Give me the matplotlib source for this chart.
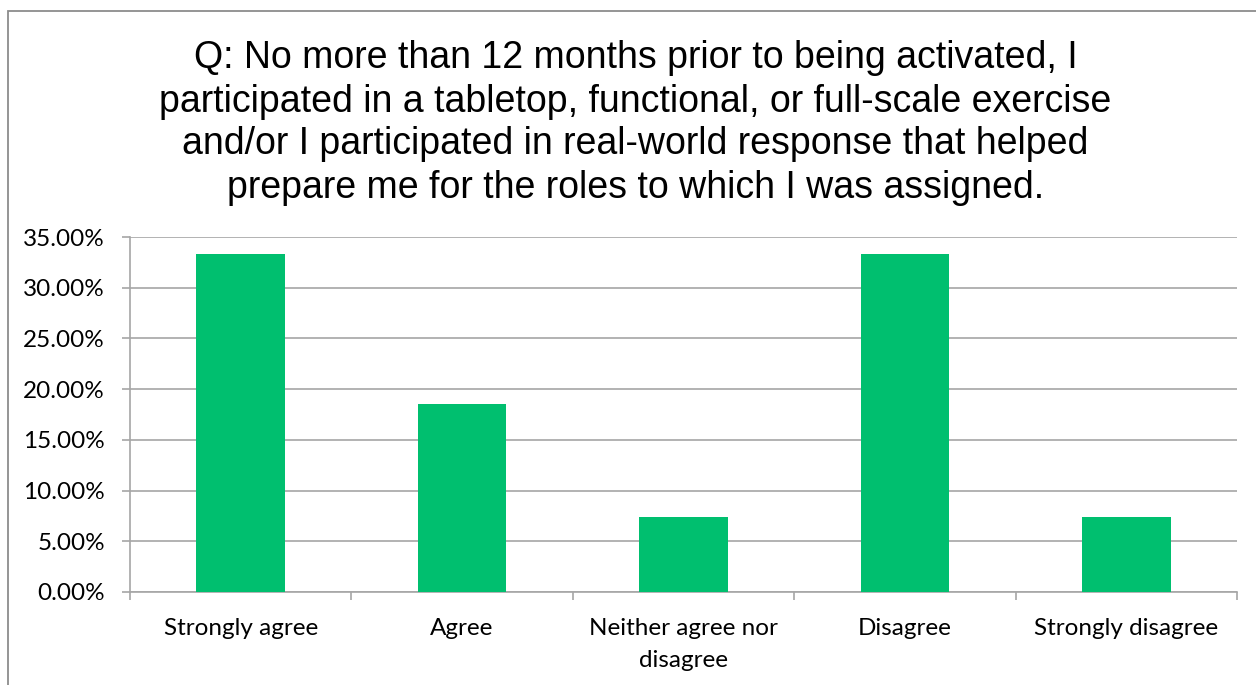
import matplotlib.pyplot as plt
from matplotlib.patches import Rectangle
from matplotlib.ticker import FixedLocator, NullFormatter, PercentFormatter

# survey answers (share of respondents, %)
CATEGORIES = ["Strongly agree", "Agree", "Neither agree nor\ndisagree",
              "Disagree", "Strongly disagree"]
SHARES = [33.33, 18.52, 7.41, 33.33, 7.41]
Y_TICKS = [0, 5, 10, 15, 20, 25, 30, 35]

TITLE = ("Q: No more than 12 months prior to being activated, I\n"
         "participated in a tabletop, functional, or full-scale exercise\n"
         "and/or I participated in real-world response that helped\n"
         "prepare me for the roles to which I was assigned.")

BAR_COLOR = "#00BF6F"
GRID_COLOR = "#A6A6A6"

fig = plt.figure(figsize=(12.56, 6.85), dpi=100)
ax = fig.add_axes([130 / 1256, 1 - 592 / 685, 1107 / 1256, 355 / 685])

x = range(len(CATEGORIES))
ax.bar(x, SHARES, width=0.4, color=BAR_COLOR, zorder=3)

ax.set_xlim(-0.5, len(CATEGORIES) - 0.5)
ax.set_ylim(0, 35)
ax.yaxis.set_major_locator(FixedLocator(Y_TICKS))
ax.yaxis.set_major_formatter(PercentFormatter(decimals=2))
ax.grid(axis="y", color=GRID_COLOR, linewidth=1.2, zorder=0)

# category labels centred, tick marks on the boundaries
ax.set_xticks([i - 0.5 for i in range(len(CATEGORIES) + 1)])
ax.xaxis.set_major_formatter(NullFormatter())
ax.set_xticks(list(x), minor=True)
ax.set_xticklabels(CATEGORIES, minor=True, fontfamily="Lato", fontsize=17.5,
                   linespacing=1.6)
ax.tick_params(axis="x", which="minor", length=0, pad=19)
ax.tick_params(axis="x", which="major", length=6, width=1.2, color=GRID_COLOR,
               direction="out")
ax.tick_params(axis="y", length=6, width=1.2, color=GRID_COLOR, pad=12)
for lbl in ax.get_yticklabels():
    lbl.set_fontfamily("Lato")
    lbl.set_fontsize(17.5)

for side in ("top", "right"):
    ax.spines[side].set_visible(False)
for side in ("left", "bottom"):
    ax.spines[side].set_color(GRID_COLOR)
    ax.spines[side].set_linewidth(1.2)

fig.text(0.506, 1 - 123 / 685, TITLE, ha="center", va="center",
         fontfamily="Liberation Sans", fontsize=27, linespacing=1.25)

# outer chart border (runs off the right and bottom edges)
fig.patches.append(Rectangle((8 / 1256, -0.1), 1.2, 1 - 11 / 685 + 0.1,
                             transform=fig.transFigure, fill=False,
                             edgecolor="#8C8C8C", linewidth=1.3))

fig.savefig("out.png", dpi=100)
